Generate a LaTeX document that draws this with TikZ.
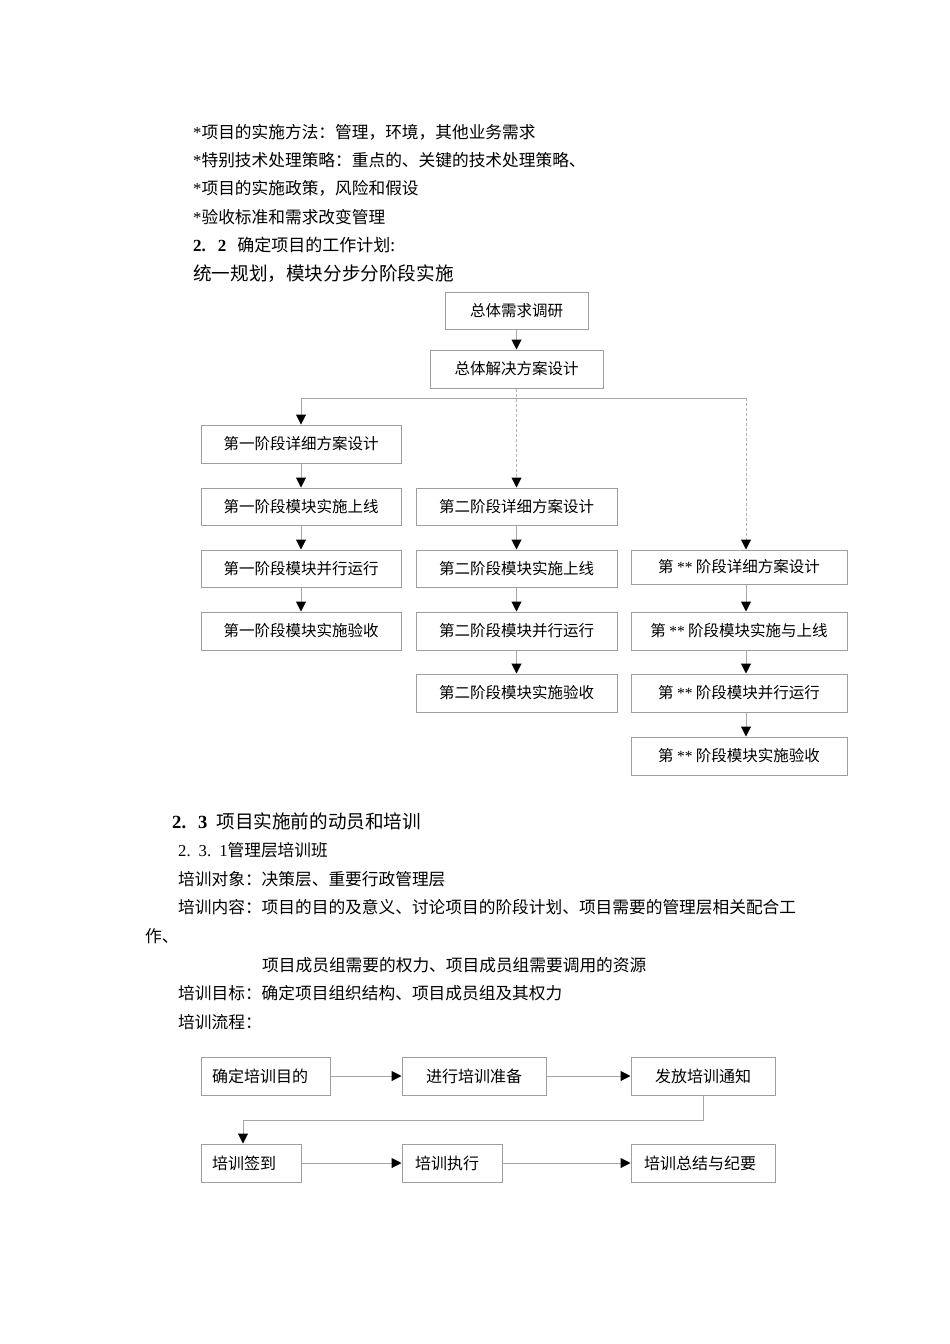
\documentclass[tikz,border=0pt]{standalone}
\usepackage{fontspec}
\newfontfamily\cjk{Noto Sans CJK SC}
\newfontfamily\numf{Liberation Serif}
\usetikzlibrary{arrows.meta}
\tikzset{
  txt/.style={inner sep=0pt, anchor=west, font=\cjk\fontsize{16.7}{18}\selectfont},
  bigtxt/.style={inner sep=0pt, anchor=west, font=\cjk\fontsize{18.6}{20}\selectfont},
  hdtxt/.style={inner sep=0pt, anchor=west, font=\cjk\fontsize{17}{19}\selectfont},
  box/.style={draw=black!38, line width=1pt, inner sep=0pt, font=\cjk\fontsize{15.5}{17}\selectfont},
  fbox/.style={draw=black!38, line width=1pt, inner ysep=0pt, font=\cjk\fontsize{16}{18}\selectfont, minimum height=38pt},
  arr/.style={draw=black!35, line width=1pt, -{Triangle[color=black,fill=black,width=10pt,length=10pt]}},
  dotarr/.style={arr, dash pattern=on 3pt off 2pt, draw=black!30},
  ln/.style={draw=black!35, line width=1pt}
}
\begin{document}
\begin{tikzpicture}[x=1pt,y=-1pt]
\fill[white] (0,0) rectangle (950,1344);
\useasboundingbox (0,0) rectangle (950,1344);

% upper text
\node[txt] (b1) at (193,132) {{\numf *}项目的实施方法：管理，环境，其他业务需求};
\node[txt] (b2) at (193,160) {{\numf *}特别技术处理策略：重点的、关键的技术处理策略、};
\node[txt] (b3) at (193,188) {{\numf *}项目的实施政策，风险和假设};
\node[txt] (b4) at (193,217) {{\numf *}验收标准和需求改变管理};
\node[hdtxt] (h22) at (193,245) {{\numf\bfseries 2.}\hspace{12pt}{\numf\bfseries 2}\hspace{11pt}确定项目的工作计划:};
\node[bigtxt] (plan) at (193,274) {统一规划，模块分步分阶段实施};

% top flowchart
\node[box, minimum width=143pt, minimum height=37pt] (t1) at (516.5,310.5) {总体需求调研};
\node[box, minimum width=173pt, minimum height=38pt] (t2) at (516.5,369) {总体解决方案设计};

\node[box, minimum width=200pt, minimum height=38pt] (L1) at (301,444) {第一阶段详细方案设计};
\node[box, minimum width=200pt, minimum height=37pt] (L2) at (301,506.5) {第一阶段模块实施上线};
\node[box, minimum width=200pt, minimum height=37pt] (L3) at (301,568.5) {第一阶段模块并行运行};
\node[box, minimum width=200pt, minimum height=38pt] (L4) at (301,631) {第一阶段模块实施验收};

\node[box, minimum width=201pt, minimum height=37pt] (M1) at (516.5,506.5) {第二阶段详细方案设计};
\node[box, minimum width=201pt, minimum height=37pt] (M2) at (516.5,568.5) {第二阶段模块实施上线};
\node[box, minimum width=201pt, minimum height=38pt] (M3) at (516.5,631) {第二阶段模块并行运行};
\node[box, minimum width=201pt, minimum height=38pt] (M4) at (516.5,693) {第二阶段模块实施验收};

\node[box, minimum width=216pt, minimum height=34pt] (R1) at (739,567) {第 {\numf **} 阶段详细方案设计};
\node[box, minimum width=216pt, minimum height=38pt] (R2) at (739,631) {第 {\numf **} 阶段模块实施与上线};
\node[box, minimum width=216pt, minimum height=38pt] (R3) at (739,693) {第 {\numf **} 阶段模块并行运行};
\node[box, minimum width=216pt, minimum height=38pt] (R4) at (739,756) {第 {\numf **} 阶段模块实施验收};

\coordinate (hl) at (301,398);
\coordinate (hr) at (746,398);
\coordinate (rx) at (746,0);

\draw[arr] (t1.south) -- (t2.north);
\draw[dotarr] (t2.south) -- (M1.north);
\draw[ln] (hl) -- (hr);
\draw[arr] (hl) -- (L1.north);
\draw[dotarr] (hr) -- (R1.north -| hr);

\draw[arr] (L1.south) -- (L2.north);
\draw[arr] (L2.south) -- (L3.north);
\draw[arr] (L3.south) -- (L4.north);
\draw[arr] (M1.south) -- (M2.north);
\draw[arr] (M2.south) -- (M3.north);
\draw[arr] (M3.south) -- (M4.north);
\draw[arr] (R1.south -| rx) -- (R2.north -| rx);
\draw[arr] (R2.south -| rx) -- (R3.north -| rx);
\draw[arr] (R3.south -| rx) -- (R4.north -| rx);

% lower text
\node[bigtxt] (h23) at (172,821) {{\numf\bfseries 2.}\hspace{12pt}{\numf\bfseries 3}\hspace{9pt}项目实施前的动员和培训};
\node[txt] (s231) at (178,850) {{\numf 2.}\hspace{8pt}{\numf 3.}\hspace{8pt}{\numf 1}管理层培训班};
\node[txt] (obj) at (178,879) {培训对象：决策层、重要行政管理层};
\node[txt] (cont) at (178,907) {培训内容：项目的目的及意义、讨论项目的阶段计划、项目需要的管理层相关配合工};
\node[txt] (cont2) at (145,936) {作、};
\node[txt] (cont3) at (262,965) {项目成员组需要的权力、项目成员组需要调用的资源};
\node[txt] (goal) at (178,993) {培训目标：确定项目组织结构、项目成员组及其权力};
\node[txt] (proc) at (178,1022) {培训流程：};

% bottom flow
\node[fbox, minimum width=129pt, text width=107pt, inner xsep=11pt, align=left] (F1) at (265.5,1076) {确定培训目的};
\node[fbox, minimum width=144pt, inner xsep=0pt] (F2) at (474,1076) {进行培训准备};
\node[fbox, minimum width=144pt, inner xsep=0pt] (F3) at (703,1076) {发放培训通知};
\node[fbox, minimum width=100pt, text width=78pt, inner xsep=11pt, align=left] (F4) at (251,1163) {培训签到};
\node[fbox, minimum width=100pt, text width=74pt, inner xsep=13pt, align=left] (F5) at (452,1163) {培训执行};
\node[fbox, minimum width=144pt, text width=118pt, inner xsep=13pt, align=left] (F6) at (703,1163) {培训总结与纪要};

\coordinate (k) at (243,1120);
\draw[arr] (F1.east) -- (F2.west);
\draw[arr] (F2.east) -- (F3.west);
\draw[arr] (F3.south) |- (k) -- (k |- F4.north);
\draw[arr] (F4.east) -- (F5.west);
\draw[arr] (F5.east) -- (F6.west);
\end{tikzpicture}
\end{document}
